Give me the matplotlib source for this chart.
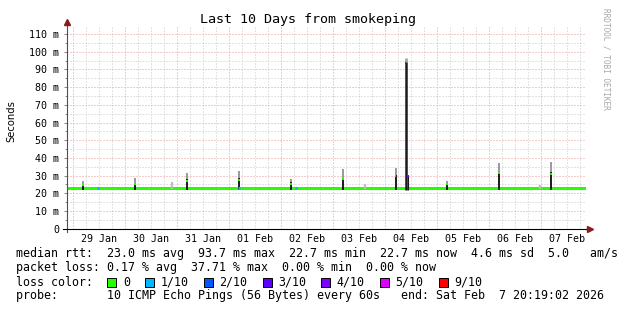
import matplotlib
matplotlib.use("Agg")
import numpy as np
import matplotlib.pyplot as plt
from matplotlib.patches import Rectangle

# ---- data (x in days, 0 = midnight 29 Jan) ----
day_labels = ["29 Jan", "30 Jan", "31 Jan", "01 Feb", "02 Feb",
              "03 Feb", "04 Feb", "05 Feb", "06 Feb", "07 Feb"]
median_base = 23.0  # ms, median rtt most of the time

spike_day = [-0.813, 0.187, 1.187, 2.187, 3.187, 4.187, 5.20, 5.395, 5.44, 6.187, 7.187, 8.187]
dark_top = [25.5, 26.0, 28.0, 28.5, 26.5, 28.8, 30.3, 94.5, 29.8, 25.6, 32.2, 31.9]
grey_top = [27.0, 28.5, 31.6, 32.8, 28.0, 33.7, 34.5, 96.4, 30.2, 27.0, 37.0, 37.5]
spike_median = [24.5, 25.0, 27.0, 27.5, 25.5, 28.0, 30.0, 93.7, 29.8, 25.0, 31.5, 31.0]
spike_loss = [0, 0, 0, 0, 0, 0, 0, 4, 4, 0, 0, 0]

faint_day = [0.898, 4.61, 7.975]
faint_top = [26.5, 25.2, 24.5]

loss_day = [-0.525, 2.187, 3.283]
loss_idx = [1, 1, 1]

loss_names = ["0", "1/10", "2/10", "3/10", "4/10", "5/10", "9/10"]
loss_colors = ["#26ff00", "#00b8ff", "#0059ff", "#5e00ff", "#7e00ff", "#dd00ff", "#ff0000"]

legend_rows = [
    "median rtt:  23.0 ms avg  93.7 ms max  22.7 ms min  22.7 ms now  4.6 ms sd  5.0   am/s",
    "packet loss: 0.17 % avg  37.71 % max  0.00 % min  0.00 % now",
    "loss color:",
    "probe:       10 ICMP Echo Pings (56 Bytes) every 60s   end: Sat Feb  7 20:19:02 2026",
]

W, H = 617, 310
mono = "DejaVu Sans Mono"

fig = plt.figure(figsize=(W / 100, H / 100), dpi=100)
fig.patch.set_facecolor("white")
x0, x1, y0, y1 = 67, 586, 228.7, 27
ax = fig.add_axes([x0 / W, (H - y0) / H, (x1 - x0) / W, (y0 - y1) / H])
ax.set_xlim(-1.121, 8.859)
ax.set_ylim(0, 114)

# grid
major_c = "#e99a9a"
minor_c = "#c8c8c8"
dots = (0, (1, 2))
for d in np.arange(-1, 9, 0.25):
    if abs(d - round(d)) > 1e-6:
        ax.axvline(d, color=minor_c, lw=0.72, ls=dots, zorder=0)
for v in np.arange(5, 114, 10):
    ax.axhline(v, color=minor_c, lw=0.72, ls=dots, zorder=0)
for d in range(-1, 9):
    ax.axvline(d, color=major_c, lw=0.72, ls=dots, zorder=0.5)
for v in range(10, 114, 10):
    ax.axhline(v, color=major_c, lw=0.72, ls=dots, zorder=0.5)

# median line (loss 0)
ax.axhline(median_base, color=loss_colors[0], lw=2.2, zorder=2)

# faint smoke
ax.vlines(faint_day, 22.5, faint_top, color="#bdbdbd", lw=1.6, zorder=3)

# smoke spikes
for i, d in enumerate(spike_day):
    w = 1.8 if dark_top[i] > 60 else (0.8 if i == 8 else 1.4)
    ax.vlines(d, dark_top[i], grey_top[i], color="#9a9a9a", lw=w, zorder=3)
    ax.vlines(d, 21.8, dark_top[i], color="#1a1a1a", lw=w, zorder=4)
    ax.hlines(spike_median[i], d - 0.012, d + 0.012,
              color=loss_colors[spike_loss[i]], lw=1.4, zorder=5)

# loss marks on median line
for d, k in zip(loss_day, loss_idx):
    ax.hlines(median_base, d - 0.025, d + 0.025, color=loss_colors[k], lw=2.2, zorder=5)

# axes / ticks
for s in ax.spines.values():
    s.set_visible(False)
ax.set_yticks(range(0, 111, 10))
ax.set_yticklabels(["0"] + ["%d m" % v for v in range(10, 111, 10)])
ax.set_yticks(np.arange(5, 114, 10), minor=True)
ax.tick_params(axis="y", which="major", length=2.2, width=0.7, color="#888888",
               pad=3.4, labelsize=7.2, labelcolor="black")
ax.tick_params(axis="y", which="minor", length=1.5, width=0.7, color="#888888")
ax.set_xticks([i - 0.5 for i in range(len(day_labels))])
ax.set_xticklabels(day_labels)
ax.tick_params(axis="x", length=0, pad=4, labelsize=7.2, labelcolor="black")
for lab in ax.get_xticklabels() + ax.get_yticklabels():
    lab.set_family(mono)

axis_c = "#505050"
ax.plot([0, 0], [-3.5 / 201.7, 1.02], color=axis_c, lw=0.8, transform=ax.transAxes, clip_on=False, zorder=6)
ax.plot([-4 / 519, 1.005], [0, 0], color="black", lw=0.8, transform=ax.transAxes, clip_on=False, zorder=6)
ax.plot([0], [1.025], marker="^", ms=4.5, color="#8b1a1a", transform=ax.transAxes, clip_on=False, zorder=7)
ax.plot([1.0077], [0], marker=">", ms=4.5, color="#8b1a1a", transform=ax.transAxes, clip_on=False, zorder=7)

# titles
fig.text(0.5, 1 - 20 / H, "Last 10 Days from smokeping", ha="center", va="center",
         family=mono, fontsize=9.6)
fig.text(11 / W, 1 - 121 / H, "Seconds", rotation=90, ha="center", va="center",
         family="DejaVu Sans", fontsize=7.2)
fig.text(606 / W, 1 - 59 / H, "RRDTOOL / TOBI OETIKER", rotation=270, ha="center", va="center",
         family=mono, fontsize=5.6, color="#a8a8a8")

# legend
cw = 7.06
lx = 15.7
row_y = [254, 268, 282, 296]
for t, yy in zip(legend_rows, row_y):
    fig.text(lx / W, 1 - yy / H, t, ha="left", va="center", family=mono, fontsize=8.4)

bx = lx + 13 * cw
for name, c in zip(loss_names, loss_colors):
    fig.patches.append(Rectangle((bx / W, 1 - (row_y[2] + 4.5) / H), 9 / W, 9 / H,
                                 facecolor=c, edgecolor="black", lw=0.7,
                                 transform=fig.transFigure, figure=fig))
    tx = bx + 15.5
    fig.text(tx / W, 1 - row_y[2] / H, name, ha="left", va="center", family=mono, fontsize=8.4)
    bx = tx + len(name) * cw + 15

fig.savefig("out.png", dpi=100)
